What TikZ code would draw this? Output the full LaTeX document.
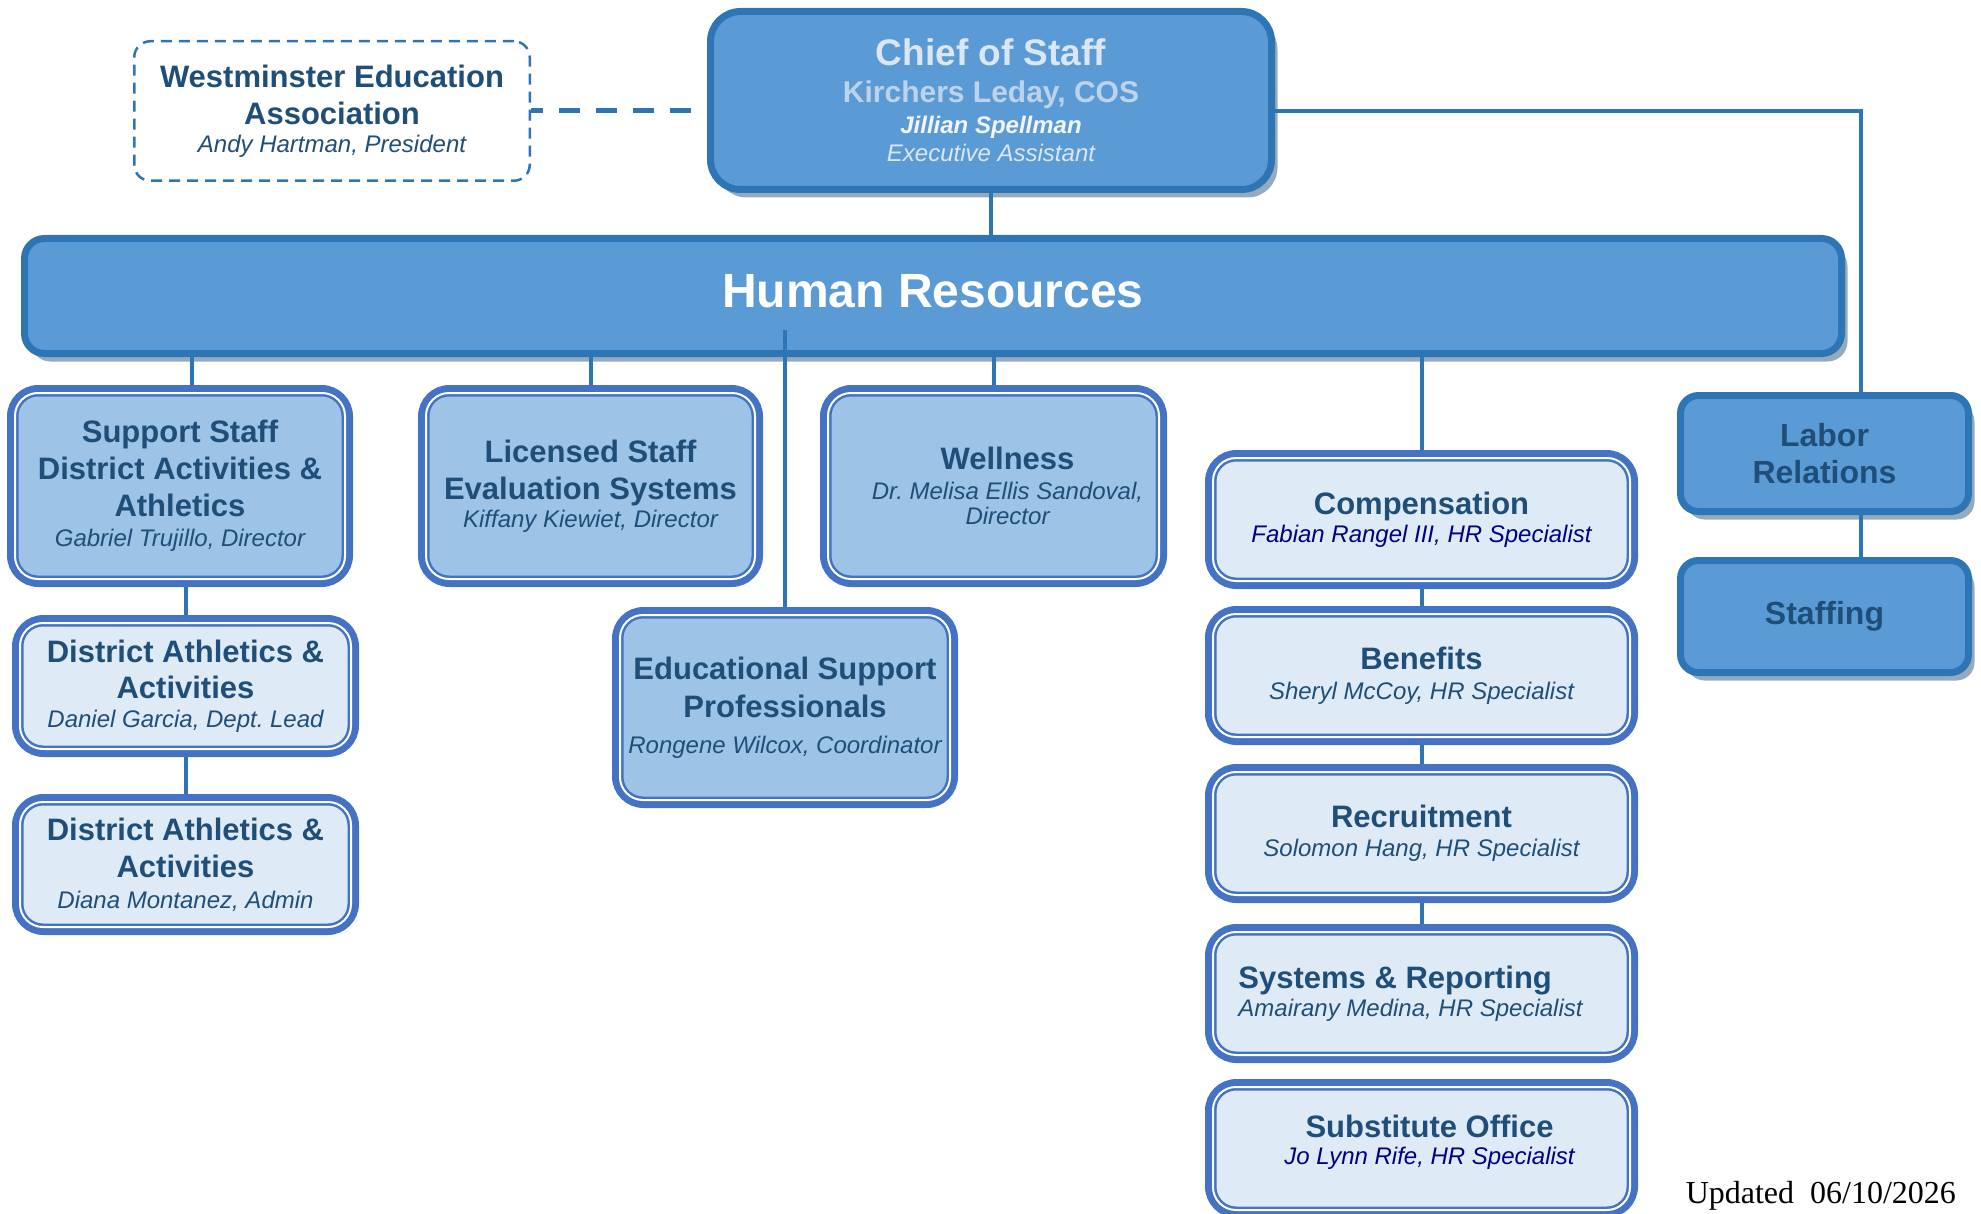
\documentclass[tikz,border=0pt]{standalone}
\usepackage{fontspec}
\setmainfont{Liberation Sans}
\newfontfamily\stampfont{Liberation Serif}
\usetikzlibrary{shadows}
\definecolor{deskblue}{HTML}{5B9BD5}
\definecolor{deskedge}{HTML}{2E75B6}
\definecolor{unitblue}{HTML}{9DC3E6}
\definecolor{unitedge}{HTML}{4472C4}
\definecolor{teamblue}{HTML}{DEEBF7}
\definecolor{inkdark}{HTML}{1F4E79}
\definecolor{inknavy}{HTML}{000080}
\definecolor{shadegrey}{HTML}{96AABF}
\definecolor{paleone}{HTML}{DCE6F2}
\definecolor{paletwo}{HTML}{BDD2EB}
\definecolor{palethree}{HTML}{F2F6FB}
\newcommand{\boxtitle}{\fontsize{15.5pt}{15pt}\selectfont\bfseries}
\newcommand{\boxname}{\fontsize{12pt}{15pt}\selectfont\itshape}
\tikzset{
  org/link/.style={deskedge, line width=2pt},
  org/dash/.style={deskedge, line width=2.5pt, dash pattern=on 10.5pt off 8pt, dash phase=4.5pt},
  org/desk/.style={draw=deskedge, line width=3.5pt, fill=deskblue, rounded corners=10pt, align=center, inner sep=2pt,
    font=\fontsize{12pt}{15pt}\selectfont,
    drop shadow={shadow xshift=3pt, shadow yshift=-4pt, fill=shadegrey, opacity=1}},
  org/unit/.style={draw=unitedge, line width=3.5pt, fill=unitblue, rounded corners=14pt, text=inkdark, align=center, inner sep=2pt,
    font=\fontsize{12pt}{15pt}\selectfont},
  org/team/.style={org/unit, fill=teamblue},
  org/twin/.style={unitedge, line width=1.25pt, double=white, double distance=1pt, rounded corners=11.5pt},
  org/guest/.style={draw=deskedge, line width=1.25pt, dash pattern=on 5.5pt off 3.5pt, rounded corners=8pt, fill=white, text=inkdark, align=center,
    font=\fontsize{12pt}{15pt}\selectfont},
}

\begin{document}
\begin{tikzpicture}[x=0.5pt, y=-0.5pt]
  \useasboundingbox (0,0) rectangle (1981,1214);
% top
\node[org/desk, rounded corners=15pt, minimum width=280.5pt, minimum height=89pt] (chief) at (991,100.5)
  {\color{paleone}\fontsize{18.5pt}{15pt}\selectfont\bfseries Chief of Staff\\[3.5pt]
   \color{paletwo}\fontsize{15pt}{15pt}\selectfont\bfseries Kirchers Leday, COS\\[0.5pt]
   \color{palethree}\fontsize{12pt}{15pt}\selectfont\bfseries\itshape Jillian Spellman\\[-1pt]
   \color{paleone}\boxname Executive Assistant};
\node[org/guest, minimum width=197.75pt, minimum height=69.75pt] (wea) at (332,111)
  {\boxtitle Westminster Education\\[3.5pt]\boxtitle Association\\[-1pt]\boxname Andy Hartman, President};
\node[org/desk, text=white, minimum width=908.5pt, minimum height=57.5pt] (hr) at (933,296)
  {\fontsize{24pt}{15pt}\selectfont\bfseries Human Resources\rule[-5pt]{0pt}{0pt}};
\node[org/desk, rounded corners=9pt, text=inkdark, minimum width=144pt, minimum height=58pt] (labor) at (1824.5,453.5)
  {\fontsize{16pt}{15pt}\selectfont\bfseries Labor\\[3.5pt]\fontsize{16pt}{15pt}\selectfont\bfseries Relations};
\node[org/desk, rounded corners=9pt, text=inkdark, minimum width=144pt, minimum height=56pt] (staffing) at (1824.5,616.5)
  {\fontsize{16pt}{15pt}\selectfont\bfseries Staffing};
% units
\node[org/unit, minimum width=169.5pt, minimum height=97.5pt] (support) at (180,486)
  {\boxtitle Support Staff\\[3.5pt]\boxtitle District Activities \&\\[3.5pt]\boxtitle Athletics\\\boxname Gabriel Trujillo, Director};
\node[org/unit, minimum width=169pt, minimum height=97.5pt] (licensed) at (590.5,486)
  {\boxtitle Licensed Staff\\[3.5pt]\boxtitle Evaluation Systems\\[-1pt]\boxname Kiffany Kiewiet, Director};
\node[org/unit, minimum width=170pt, minimum height=97.5pt] (wellness) at (993.5,486)
  {\hspace*{14pt}\boxtitle Wellness\\\hspace*{14pt}\boxname Dr.\ Melisa Ellis Sandoval,\\[-2.5pt]\hspace*{14pt}\boxname Director};
\node[org/unit, minimum width=169.5pt, minimum height=97pt] (edu) at (785,707.5)
  {\boxtitle Educational Support\\[4pt]\boxtitle Professionals\\[3pt]\boxname Rongene Wilcox, Coordinator};
\node[org/team, minimum width=170pt, minimum height=67.5pt] (da1) at (185.5,686)
  {\boxtitle District Athletics \&\\[3pt]\boxtitle Activities\\[-0.5pt]\boxname Daniel Garcia, Dept.\ Lead};
\node[org/team, minimum width=170pt, minimum height=67pt] (da2) at (185.5,864.5)
  {\boxtitle District Athletics \&\\[3.5pt]\boxtitle Activities\\[0.5pt]\boxname Diana Montanez, Admin};
% hr teams
\node[org/team, minimum width=213pt, minimum height=66pt] (comp) at (1421.5,519.5)
  {\boxtitle Compensation\\[-1pt]\boxname\color{inknavy}Fabian Rangel III, HR Specialist};
\node[org/team, minimum width=213pt, minimum height=66pt] (ben) at (1421.5,675.5)
  {\boxtitle Benefits\\\boxname Sheryl McCoy, HR Specialist};
\node[org/team, minimum width=213pt, minimum height=66pt] (rec) at (1421.5,833.5)
  {\boxtitle Recruitment\\[-0.5pt]\boxname Solomon Hang, HR Specialist};
\node[org/team, align=left, minimum width=213pt, minimum height=66pt] (sys) at (1421.5,993.5)
  {\boxtitle Systems \& Reporting\\[-1pt]\boxname Amairany Medina, HR Specialist\hspace*{11pt}};
\node[org/team, minimum width=213pt, minimum height=66pt] (subst) at (1421.5,1148.5)
  {\hspace*{8pt}\boxtitle Substitute Office\\[-1.5pt]\hspace*{8pt}\boxname\color{inknavy}Jo Lynn Rife, HR Specialist\rule[-8.5pt]{0pt}{0pt}};
\foreach \unit in {support,licensed,wellness,edu,da1,da2,comp,ben,rec,sys,subst}
  \draw[org/twin] ([shift={(4pt,-4pt)}]\unit.north west) rectangle ([shift={(-4pt,4pt)}]\unit.south east);
\node[anchor=base east, font=\stampfont\fontsize{16pt}{18pt}\selectfont] (stamp) at (1963,1203) {Updated~~06/10/2026};
% connectors
\draw[org/dash] (wea.east) -- (wea.east -| chief.west);
\draw[org/link] (chief.south) -- (chief.south |- hr.north);
\coordinate (bend) at (1861,111);
\draw[org/link] (chief.east |- bend) -- (bend) -- (bend |- labor.north);
\draw[org/link] (bend |- labor.south) -- (bend |- staffing.north);
\path ([xshift=6pt]support.north) coordinate (supptop);
\draw[org/link] (supptop) -- (supptop |- hr.south);
\draw[org/link] (licensed.north) -- (licensed.north |- hr.south);
\draw[org/link] (wellness.north) -- (wellness.north |- hr.south);
\draw[org/link] (comp.north) -- (comp.north |- hr.south);
\path (hr.south -| edu.north) ++(0,-27) coordinate (edutop);
\draw[org/link] (edutop) -- (edu.north);
\draw[org/link] (da1.north) -- (da1.north |- support.south);
\draw[org/link] (da2.north) -- (da2.north |- da1.south);
\draw[org/link] (ben.north) -- (ben.north |- comp.south);
\draw[org/link] (rec.north) -- (rec.north |- ben.south);
\draw[org/link] (sys.north) -- (sys.north |- rec.south);

\end{tikzpicture}
\end{document}
